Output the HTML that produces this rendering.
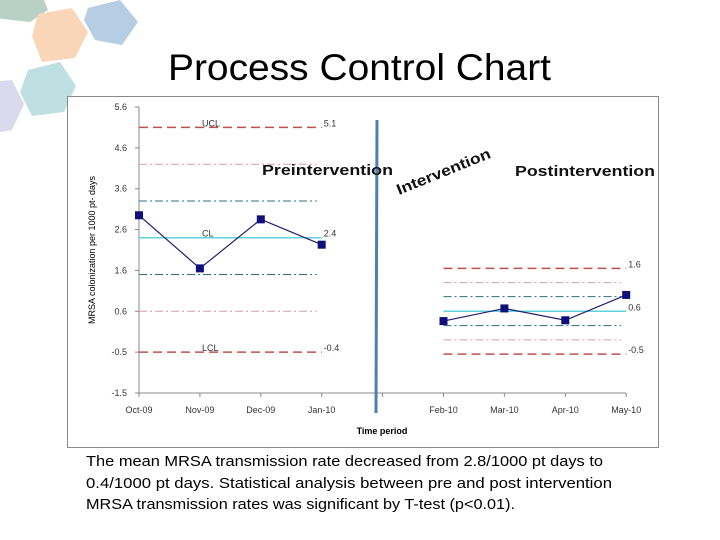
<!DOCTYPE html>
<html><head><meta charset="utf-8">
<style>
html,body{margin:0;padding:0;background:#fff;width:720px;height:540px;overflow:hidden}
svg text{font-family:"Liberation Sans",sans-serif}
</style></head>
<body>
<svg id="root" width="720" height="540" viewBox="0 0 720 540" xmlns="http://www.w3.org/2000/svg">
  <g>
    <polygon points="-5,-10 40,-10 48,10 30,22 -5,18" fill="#b9d0c6"/>
    <polygon points="38,14 72,8 88,32 75,58 42,62 32,36" fill="#f9d6b8"/>
    <polygon points="88,8 120,0 138,22 122,45 95,40 84,20" fill="#b7cde4"/>
    <polygon points="28,70 60,62 76,86 64,112 32,116 20,92" fill="#bfe0e2"/>
    <polygon points="-10,82 12,80 24,104 12,130 -10,134" fill="#d9daee"/>
  </g>
  <text x="168" y="80" font-size="37" textLength="383" lengthAdjust="spacingAndGlyphs" fill="#000">Process Control Chart</text>
  <rect x="67.5" y="96.5" width="591" height="351" fill="#fff" stroke="#8a8a8a" stroke-width="1"/>
  <g id="chart"></g>
  <text x="86" y="466" font-size="15" textLength="517" lengthAdjust="spacingAndGlyphs" fill="#000">The mean MRSA transmission rate decreased from 2.8/1000 pt days to</text>
  <text x="86" y="488" font-size="15" textLength="526" lengthAdjust="spacingAndGlyphs" fill="#000">0.4/1000 pt days.  Statistical analysis between pre and post intervention</text>
  <text x="86" y="509" font-size="15" textLength="429" lengthAdjust="spacingAndGlyphs" fill="#000">MRSA transmission rates was significant by T-test (p&lt;0.01).</text>
</svg>
<script>
const categories = ["Oct-09","Nov-09","Dec-09","Jan-10","","Feb-10","Mar-10","Apr-10","May-10"];
const preValues = [2.95, 1.65, 2.85, 2.23];
const postValues = [0.36, 0.67, 0.38, 1.0];
const tickValues = [5.6, 4.6, 3.6, 2.6, 1.6, 0.6, -0.4, -1.4];
const tickLabels = ["5.6","4.6","3.6","2.6","1.6","0.6","-0.5","-1.5"];
const preLimits = [5.1, 4.2, 3.3, 2.4, 1.5, 0.6, -0.4];
const postLimits = [1.65, 1.3, 0.96, 0.6, 0.25, -0.1, -0.45];
const limitKinds = ["ucl","sig2","sig1","cl","sig1","sig2","lcl"];
const preLabels = ["5.1","","","2.4","","","-0.4"];
const postLabels = ["1.6","","","0.6","","","-0.5"];

const NS = "http://www.w3.org/2000/svg";
const g = document.getElementById('chart');
const yMax = 5.6, yMin = -1.4, yTop = 107, yBot = 393;
function y(v){ return yTop + (yMax - v) / (yMax - yMin) * (yBot - yTop); }
function x(i){ return 139 + i * 60.9; }
function el(tag, attrs, parent){
  const e = document.createElementNS(NS, tag);
  for (const k in attrs) e.setAttribute(k, attrs[k]);
  (parent || g).appendChild(e);
  return e;
}
const styles = {
  ucl:{stroke:"#c0504d",dash:"9,5",w:1.5},
  lcl:{stroke:"#c0504d",dash:"9,5",w:1.5},
  sig2:{stroke:"#d4a0a0",dash:"8,3,2,3",w:1},
  sig1:{stroke:"#2e6f7a",dash:"8,3,2,3",w:1},
  cl:{stroke:"#5dd3dc",dash:"",w:1.5}
};

let ax = el('line',{x1:139,y1:yTop,x2:139,y2:yBot,stroke:"#888","stroke-width":1});


let xa = el('line',{x1:139,y1:yBot,x2:x(8),y2:yBot,stroke:"#888","stroke-width":1});


tickValues.forEach((v,i)=>{
  el('line',{x1:135,y1:y(v),x2:139,y2:y(v),stroke:"#888"});
  const t = el('text',{x:127,y:y(v)+3,"text-anchor":"end","font-size":9,fill:"#333"});
  t.textContent = tickLabels[i];
  
  
});
categories.forEach((c,i)=>{
  el('line',{x1:x(i),y1:yBot,x2:x(i),y2:yBot+4,stroke:"#888"});
  if(!c) return;
  const t = el('text',{x:x(i),y:yBot+20,"text-anchor":"middle","font-size":9,fill:"#333"});
  t.textContent = c;
  
  
});
const yt = el('text',{transform:"translate(95,250) rotate(-90)","text-anchor":"middle","font-size":9,fill:"#000"});
yt.textContent = "MRSA colonization per 1000 pt- days";


const xt = el('text',{x:382,y:434,"text-anchor":"middle","font-size":9,"font-weight":"bold",fill:"#000"});
xt.textContent = "Time period";



function drawLimits(vals, labels, i0, i1, prefix){
  vals.forEach((v,k)=>{
    const s = styles[limitKinds[k]];
    const xe = (limitKinds[k]==="ucl"||limitKinds[k]==="lcl"||limitKinds[k]==="cl") ? x(i1) : x(i1)-5;
    const l = el('line',{x1:x(i0),y1:y(v),x2:xe,y2:y(v),stroke:s.stroke,"stroke-width":s.w,"stroke-dasharray":s.dash});
    
    
    if(labels[k]){
      const t = el('text',{x:x(i1)+2,y:y(v)-1,"font-size":9,fill:"#333"});
      t.textContent = labels[k];
      
      
    }
  });
}
drawLimits(preLimits, preLabels, 0, 3, 'pre');
drawLimits(postLimits, postLabels, 5, 8, 'post');
[["UCL",5.1],["CL",2.4],["LCL",-0.4]].forEach(p=>{
  const t = el('text',{x:202,y:y(p[1])-1,"font-size":9,fill:"#333"});
  t.textContent = p[0];
  
  
});

function series(vals, i0, name){
  const pts = vals.map((v,k)=>x(i0+k)+","+y(v)).join(" ");
  const pl = el('polyline',{points:pts,fill:"none",stroke:"#1f1f6e","stroke-width":1.2});
  
  
  vals.forEach((v,k)=>{
    const r = el('rect',{x:x(i0+k)-4,y:y(v)-4,width:8,height:8,fill:"#0f0f7a"});
    
    
  });
}
series(preValues, 0, 'pre-series');
series(postValues, 5, 'post-series');

const vl = el('line',{x1:377,y1:120,x2:376,y2:413,stroke:"#4f7fad","stroke-width":3});


const a1 = el('text',{x:262,y:175,"font-size":15,"font-weight":"bold",textLength:131,lengthAdjust:"spacingAndGlyphs",fill:"#111"});
a1.textContent = "Preintervention";


const a2 = el('text',{x:515,y:176,"font-size":15,"font-weight":"bold",textLength:140,lengthAdjust:"spacingAndGlyphs",fill:"#111"});
a2.textContent = "Postintervention";


const a3 = el('text',{transform:"translate(399,195) rotate(-22)","font-size":15,"font-weight":"bold",textLength:100,lengthAdjust:"spacingAndGlyphs",fill:"#111"});
a3.textContent = "Intervention";


</script>
</body></html>
